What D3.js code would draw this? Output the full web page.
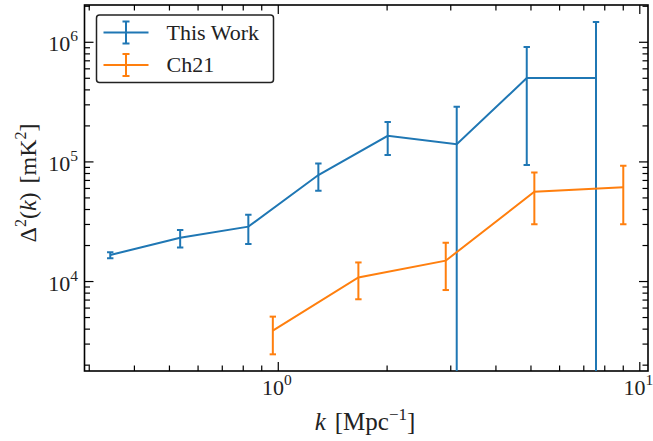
<!DOCTYPE html>
<html>
<head>
<meta charset="utf-8">
<script src="https://cdn.jsdelivr.net/npm/d3@7"></script>
<style>
  body { margin: 0; background: #fff; }
  text { font-family: "Liberation Serif", "DejaVu Serif", serif; fill: #222; }
</style>
</head>
<body>
<script>
const workK = [0.344, 0.537, 0.829, 1.295, 2.014, 3.126, 4.883, 7.59];
const workP = [16500, 23000, 28500, 76900, 163700, 139000, 497000, 497000];
const workHi = [17400, 26700, 35800, 96200, 214000, 286000, 903000, 1466000];
const workLo = [15500, 19100, 20400, 56800, 113000, 1, 93400, 1];

const ch21K = [0.969, 1.671, 2.915, 5.125, 9.03];
const ch21P = [3850, 10700, 14800, 55700, 60700];
const ch21Hi = [5040, 14300, 20900, 80900, 91900];
const ch21Lo = [2440, 7040, 8410, 29900, 29900];

const seriesNames = ["This Work", "Ch21"];
const seriesColors = ["#1f77b4", "#ff7f0e"];
const xMajor = [1, 10];
const yMajor = [1e4, 1e5, 1e6];

const W = 653, H = 441;
const m = {left: 84.5, right: 5, top: 5, bottom: 70};

const svg = d3.select("body").append("svg")
    .attr("width", W).attr("height", H);

const x = d3.scaleLog().domain([0.292, 10.57]).range([m.left, W - m.right]);
const y = d3.scaleLog().domain([1770, 2.03e6]).range([H - m.bottom, m.top]);

// minor ticks in each decade
function minors(dom) {
    const out = [];
    for (let e = -2; e <= 7; e++) {
        for (let j = 2; j <= 9; j++) {
            const v = j * Math.pow(10, e);
            if (v >= dom[0] && v <= dom[1]) out.push(v);
        }
    }
    return out;
}

svg.append("defs").append("clipPath").attr("id", "clip")
    .append("rect")
    .attr("x", m.left).attr("y", m.top)
    .attr("width", W - m.left - m.right).attr("height", H - m.top - m.bottom);

// axes, ticks pointing inward on all four sides
const bottomY = H - m.bottom, rightX = W - m.right;
function addAxis(axis, tr) {
    const g = svg.append("g").attr("transform", tr).call(axis);
    g.select(".domain").remove();
    g.selectAll("line").attr("stroke", "#000").attr("stroke-width", 1.2);
    return g;
}
addAxis(d3.axisTop(x).tickValues(xMajor).tickSize(9).tickFormat(""), `translate(0,${bottomY})`);
addAxis(d3.axisTop(x).tickValues(minors(x.domain())).tickSize(5.5).tickFormat(""), `translate(0,${bottomY})`);
addAxis(d3.axisBottom(x).tickValues(xMajor).tickSize(9).tickFormat(""), `translate(0,${m.top})`);
addAxis(d3.axisBottom(x).tickValues(minors(x.domain())).tickSize(5.5).tickFormat(""), `translate(0,${m.top})`);
addAxis(d3.axisRight(y).tickValues(yMajor).tickSize(9).tickFormat(""), `translate(${m.left},0)`);
addAxis(d3.axisRight(y).tickValues(minors(y.domain())).tickSize(5.5).tickFormat(""), `translate(${m.left},0)`);
addAxis(d3.axisLeft(y).tickValues(yMajor).tickSize(9).tickFormat(""), `translate(${rightX},0)`);
addAxis(d3.axisLeft(y).tickValues(minors(y.domain())).tickSize(5.5).tickFormat(""), `translate(${rightX},0)`);

svg.append("rect")
    .attr("x", m.left).attr("y", m.top)
    .attr("width", rightX - m.left).attr("height", bottomY - m.top)
    .attr("fill", "none").attr("stroke", "#000").attr("stroke-width", 1.6);

// tick labels as 10^n
function powLabel(sel, v) {
    const e = Math.round(Math.log10(v));
    sel.append("tspan").text("10");
    sel.append("tspan").attr("dy", -10).attr("font-size", 15.5).text(e);
}
xMajor.forEach(v => {
    const t = svg.append("text")
        .attr("x", x(v) - 1).attr("y", bottomY + 24)
        .attr("text-anchor", "middle").attr("font-size", 22);
    powLabel(t, v);
});
yMajor.forEach(v => {
    const t = svg.append("text")
        .attr("x", m.left - 6.5).attr("y", y(v) + 9.5)
        .attr("text-anchor", "end").attr("font-size", 22);
    powLabel(t, v);
});

// axis titles
const xl = svg.append("text")
    .attr("x", 365).attr("y", 430)
    .attr("text-anchor", "middle").attr("font-size", 25);
xl.append("tspan").attr("font-style", "italic").text("k");
xl.append("tspan").attr("dx", 9).text("[Mpc");
xl.append("tspan").attr("dy", -10).attr("font-size", 17).text("\u22121");
xl.append("tspan").attr("dy", 10).text("]");

const yl = svg.append("text")
    .attr("transform", "translate(36,183) rotate(-90)")
    .attr("text-anchor", "middle").attr("font-size", 24);
yl.append("tspan").text("\u0394");
yl.append("tspan").attr("dy", -10).attr("font-size", 16).text("2");
yl.append("tspan").attr("dy", 10).text("(");
yl.append("tspan").attr("font-style", "italic").text("k");
yl.append("tspan").text(")");
yl.append("tspan").attr("dx", 9).text("[mK");
yl.append("tspan").attr("dy", -10).attr("font-size", 16).text("2");
yl.append("tspan").attr("dy", 10).text("]");

// data series
const series = [
    {k: workK, p: workP, hi: workHi, lo: workLo},
    {k: ch21K, p: ch21P, hi: ch21Hi, lo: ch21Lo}
];
const plot = svg.append("g").attr("clip-path", "url(#clip)");
const line = d3.line().x(d => x(d.k)).y(d => y(d.p));
series.forEach((s, si) => {
    const rows = s.k.map((k, i) => ({k, p: s.p[i], hi: s.hi[i], lo: s.lo[i]}));
    const col = seriesColors[si];
    plot.append("path").datum(rows)
        .attr("d", line).attr("fill", "none")
        .attr("stroke", col).attr("stroke-width", 2);
    const eb = plot.append("g").attr("stroke", col).attr("stroke-width", 2);
    rows.forEach(d => {
        const cx = x(d.k);
        const yHi = y(d.hi), yLo = Math.min(y(d.lo), H);
        eb.append("line").attr("x1", cx).attr("x2", cx).attr("y1", yHi).attr("y2", yLo);
        eb.append("line").attr("x1", cx - 3.2).attr("x2", cx + 3.2).attr("y1", yHi).attr("y2", yHi);
        eb.append("line").attr("x1", cx - 3.2).attr("x2", cx + 3.2).attr("y1", yLo).attr("y2", yLo);
    });
});

// legend
const lg = svg.append("g").attr("transform", "translate(96.5,15)");
lg.append("rect").attr("width", 177).attr("height", 67.5).attr("rx", 3)
    .attr("fill", "#fff").attr("stroke", "#222").attr("stroke-width", 1.5);
seriesNames.forEach((name, i) => {
    const cy = 17.5 + i * 32.5;
    const col = seriesColors[i];
    const g = lg.append("g").attr("stroke", col).attr("stroke-width", 2);
    g.append("line").attr("x1", 7).attr("x2", 52).attr("y1", cy).attr("y2", cy);
    g.append("line").attr("x1", 29.5).attr("x2", 29.5).attr("y1", cy - 11).attr("y2", cy + 11);
    g.append("line").attr("x1", 26).attr("x2", 33).attr("y1", cy - 11).attr("y2", cy - 11);
    g.append("line").attr("x1", 26).attr("x2", 33).attr("y1", cy + 11).attr("y2", cy + 11);
    lg.append("text").attr("x", 70).attr("y", cy + 7)
        .attr("font-size", 22).text(name);
});
</script>
</body>
</html>
